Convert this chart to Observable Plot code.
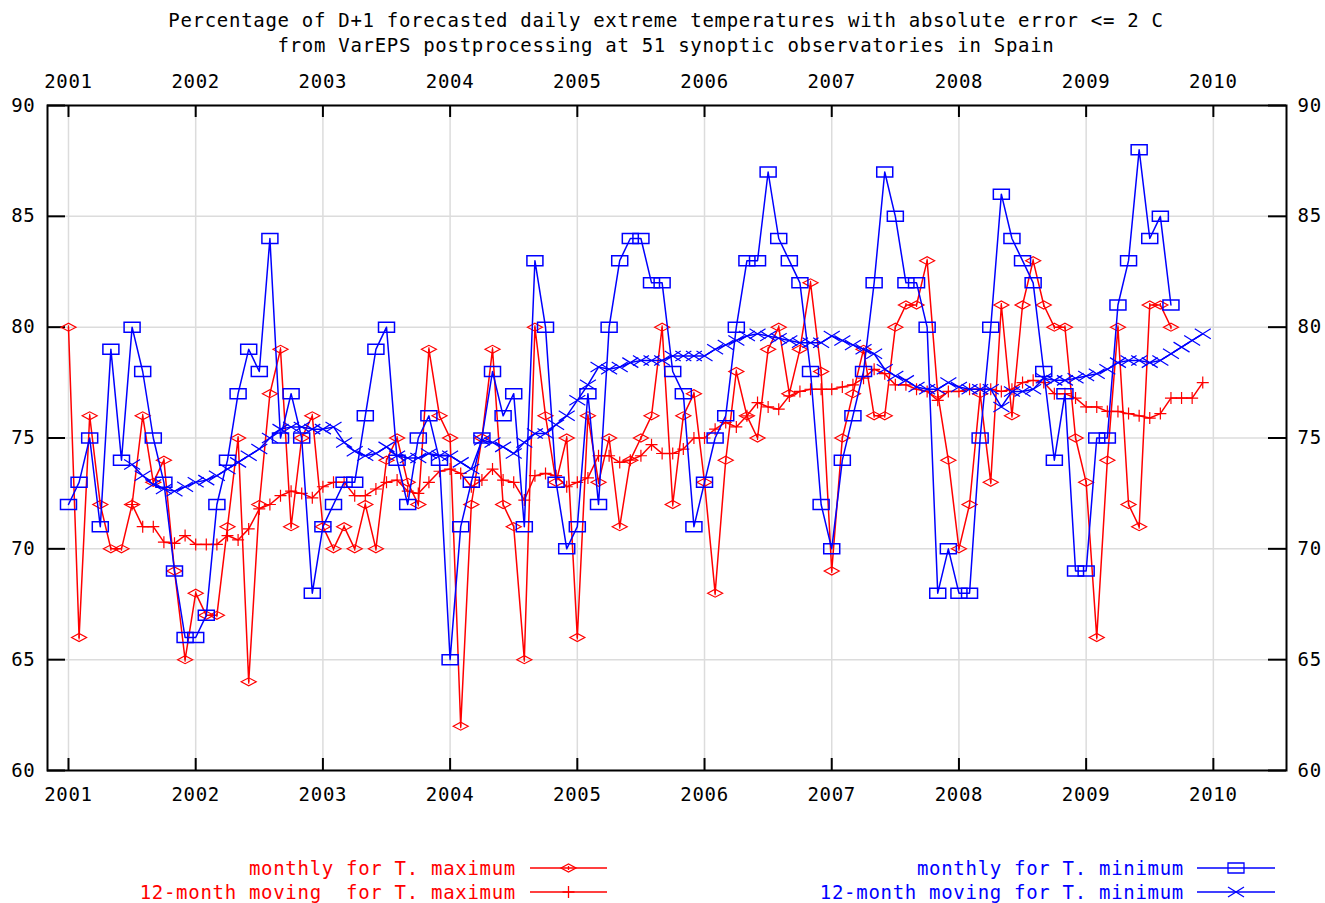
<!DOCTYPE html>
<html><head><meta charset="utf-8">
<script src="https://cdn.jsdelivr.net/npm/d3@7"></script>
<script src="https://cdn.jsdelivr.net/npm/@observablehq/plot@0.6"></script>
<style>body{margin:0;background:#fff;}#chart svg{display:block;}</style>
</head><body><div id="chart"></div>
<script>
// ---- data (monthly, starting January 2001) ----
const startYear = 2001;
const maxMonthly = [
  80,66,76,72,70,70,72,76,73,74,69,65,
  68,67,67,71,75,64,72,77,79,71,75,76,
  71,70,71,70,72,70,74,75,73,72,79,76,
  75,62,72,75,79,72,71,65,80,76,73,75,
  66,76,73,75,71,74,75,76,80,72,76,77,
  73,68,74,78,76,75,79,80,77,79,82,78,
  69,75,77,79,76,76,80,81,81,83,77,74,
  70,72,77,73,81,76,81,83,81,80,80,75,
  73,66,74,80,72,71,81,81,80
];
const minMonthly = [
  72,73,75,71,79,74,80,78,75,73,69,66,
  66,67,72,74,77,79,78,84,75,77,75,68,
  71,72,73,73,76,79,80,74,72,75,76,74,
  65,71,73,75,78,76,77,71,83,80,73,70,
  71,77,72,80,83,84,84,82,82,78,77,71,
  73,75,76,80,83,83,87,84,83,82,78,72,
  70,74,76,78,82,87,85,82,82,80,68,70,
  68,68,75,80,86,84,83,82,78,74,77,69,
  69,75,75,81,83,88,84,85,81
];
// 12-month moving averages, first value at July 2001
const movingStartMonth = 6;
const maxMoving = [
  72.0,71.0,71.0,70.3,70.25,70.6,70.2,70.2,70.2,70.6,70.4,70.9,71.8,72.0,72.4,72.6,72.5,72.3,72.8,73.0,73.0,72.4,72.4,72.7,73.0,73.1,72.6,72.5,73.0,
  73.5,73.6,73.4,72.8,73.1,73.6,73.1,73.0,72.2,73.3,73.4,73.3,72.8,73.0,73.2,74.2,74.2,73.9,74.0,74.2,74.7,74.3,74.3,74.5,75.0,75.0,75.4,75.7,
  75.5,76.0,76.6,76.4,76.3,76.9,77.1,77.2,77.2,77.2,77.3,77.4,77.7,78.1,77.9,77.4,77.4,77.2,77.1,76.7,77.1,77.1,77.2,77.2,77.2,77.1,77.2,77.5,77.6,
  77.5,77.0,77.0,76.8,76.4,76.4,76.2,76.2,76.1,76.0,75.9,76.1,76.8,76.8,76.8,77.5
];
const minMoving = [
  73.8,73.3,72.9,72.7,72.6,72.8,73.0,73.1,73.3,73.6,73.9,74.2,74.5,75.0,75.4,75.5,75.5,75.4,75.4,75.5,74.8,74.4,74.2,74.3,74.6,74.2,74.1,74.1,74.3,
  74.2,74.2,73.9,73.6,74.9,74.8,74.6,74.3,74.8,75.2,75.2,75.6,76.0,76.7,77.4,78.2,78.1,78.2,78.4,78.5,78.5,78.5,78.7,78.7,78.7,78.7,79.0,79.2,
  79.4,79.6,79.7,79.6,79.5,79.4,79.3,79.3,79.3,79.6,79.4,79.2,79.0,78.8,78.1,77.8,77.6,77.3,77.2,77.2,77.5,77.3,77.2,77.2,77.2,76.4,77.1,77.1,77.2,
  77.7,77.6,77.6,77.7,77.8,77.9,78.1,78.4,78.5,78.5,78.4,78.5,78.8,79.1,79.4,79.7
];
const yearTicks = [2001,2002,2003,2004,2005,2006,2007,2008,2009,2010];
const valueTicks = [60,65,70,75,80,85,90];
const titleLines = [
  "Percentage of D+1 forecasted daily extreme temperatures with absolute error <= 2 C",
  "from VarEPS postprocessing at 51 synoptic observatories in Spain"
];
const seriesNames = [
  "monthly for T. maximum",
  "12-month moving  for T. maximum",
  "monthly for T. minimum",
  "12-month moving for T. minimum"
];

// ---- build tables ----
const toMonthly = arr => arr.map((v, i) => ({t: startYear + i / 12, v}));
const toMoving = arr => arr.map((v, i) => ({t: startYear + (i + movingStartMonth) / 12, v}));
const maxM = toMonthly(maxMonthly), minM = toMonthly(minMonthly);
const maxA = toMoving(maxMoving), minA = toMoving(minMoving);

const RED = "#ff0000", BLUE = "#0000ff";
const symDiamond = {draw(c){c.moveTo(-7.5,0);c.lineTo(0,-4);c.lineTo(7.5,0);c.lineTo(0,4);c.closePath();c.moveTo(0,-2);c.lineTo(0,2);}};
const symBox = {draw(c){c.moveTo(-8,-5);c.lineTo(8,-5);c.lineTo(8,5);c.lineTo(-8,5);c.closePath();}};
const symPlus = {draw(c){c.moveTo(-6,0);c.lineTo(6,0);c.moveTo(0,-6);c.lineTo(0,6);}};
const symCross = {draw(c){c.moveTo(-8,-5);c.lineTo(8,5);c.moveTo(-8,5);c.lineTo(8,-5);}};

const W = 1325, H = 903, mL = 47, mR = 39, mT = 105, mB = 133;
const innerW = W - mL - mR, innerH = H - mT - mB;

const plot = Plot.plot({
  width: W, height: H,
  marginLeft: mL, marginRight: mR, marginTop: mT, marginBottom: mB,
  style: {fontFamily: "'DejaVu Sans Mono', monospace", fontSize: "19px", letterSpacing: "0.7px", background: "#fff", color: "#000"},
  x: {domain: [2000.835, 2010.575]},
  y: {domain: [60, 90]},
  marks: [
    Plot.gridX(yearTicks, {stroke: "#dcdcdc", strokeOpacity: 1, strokeWidth: 1.5}),
    Plot.gridY(valueTicks, {stroke: "#dcdcdc", strokeOpacity: 1, strokeWidth: 1.5}),
    Plot.axisX(yearTicks, {anchor: "bottom", tickSize: 0, tickPadding: 17, tickFormat: d => String(d), label: null}),
    Plot.axisX(yearTicks, {anchor: "top", tickSize: 0, tickPadding: 18, tickFormat: d => String(d), label: null}),
    Plot.axisY(valueTicks, {anchor: "left", tickSize: 0, tickPadding: 12, label: null}),
    Plot.axisY(valueTicks, {anchor: "right", tickSize: 0, tickPadding: 11, label: null}),
    Plot.tickX(yearTicks, {x: d => d, insetBottom: innerH - 12, stroke: "#000", strokeWidth: 2}),
    Plot.tickX(yearTicks, {x: d => d, insetTop: innerH - 12, stroke: "#000", strokeWidth: 2}),
    Plot.tickY(valueTicks, {y: d => d, insetRight: innerW - 18, stroke: "#000", strokeWidth: 2}),
    Plot.tickY(valueTicks, {y: d => d, insetLeft: innerW - 18, stroke: "#000", strokeWidth: 2}),
    Plot.line(maxM, {x: "t", y: "v", stroke: RED, strokeWidth: 1.5}),
    Plot.dot(maxM, {x: "t", y: "v", stroke: RED, fill: "none", symbol: symDiamond, r: 4, strokeWidth: 1.2}),
    Plot.line(maxA, {x: "t", y: "v", stroke: RED, strokeWidth: 1.5}),
    Plot.dot(maxA, {x: "t", y: "v", stroke: RED, fill: "none", symbol: symPlus, r: 4, strokeWidth: 1.2}),
    Plot.line(minM, {x: "t", y: "v", stroke: BLUE, strokeWidth: 1.5}),
    Plot.dot(minM, {x: "t", y: "v", stroke: BLUE, fill: "none", symbol: symBox, r: 4, strokeWidth: 1.5}),
    Plot.line(minA, {x: "t", y: "v", stroke: BLUE, strokeWidth: 1.5}),
    Plot.dot(minA, {x: "t", y: "v", stroke: BLUE, fill: "none", symbol: symCross, r: 4, strokeWidth: 1.2}),
    Plot.frame({stroke: "#000", strokeWidth: 2})
  ]
});
document.getElementById("chart").appendChild(plot);

// ---- title and legend ----
const svg = d3.select(plot);
const g = svg.append("g").attr("font-family", "'DejaVu Sans Mono', monospace").attr("font-size", 19).style("letter-spacing", "0.7px");
g.selectAll("text.title").data(titleLines).join("text")
  .attr("x", 666).attr("y", (d, i) => 27 + i * 25)
  .attr("text-anchor", "middle").attr("fill", "#000").text(d => d);

const legend = [
  {name: seriesNames[0], color: RED, sym: symDiamond, tx: 516, lx1: 530, lx2: 607, y: 868},
  {name: seriesNames[1], color: RED, sym: symPlus, tx: 516, lx1: 530, lx2: 607, y: 892},
  {name: seriesNames[2], color: BLUE, sym: symBox, tx: 1184, lx1: 1197, lx2: 1275, y: 868},
  {name: seriesNames[3], color: BLUE, sym: symCross, tx: 1184, lx1: 1197, lx2: 1275, y: 892}
];
for (const L of legend) {
  g.append("text").attr("x", L.tx).attr("y", L.y + 7).attr("text-anchor", "end")
    .attr("fill", L.color).style("white-space", "pre").attr("xml:space", "preserve").text(L.name);
  g.append("line").attr("x1", L.lx1).attr("x2", L.lx2).attr("y1", L.y).attr("y2", L.y)
    .attr("stroke", L.color).attr("stroke-width", 1.5);
  g.append("path").attr("d", d3.symbol(L.sym, 50)()).attr("transform", `translate(${(L.lx1 + L.lx2) / 2},${L.y})`)
    .attr("fill", "none").attr("stroke", L.color).attr("stroke-width", 1.3);
}
</script>
</body></html>
